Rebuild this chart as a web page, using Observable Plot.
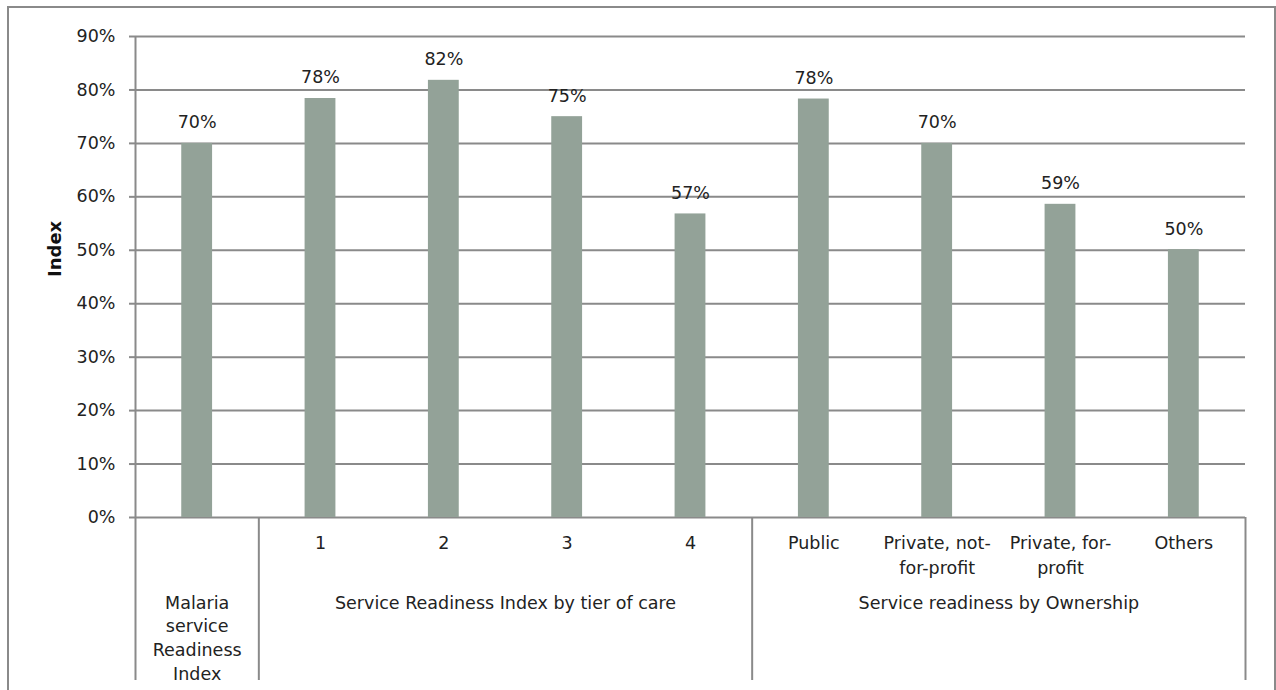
<!DOCTYPE html>
<html>
<head>
<meta charset="utf-8">
<script src="https://cdn.jsdelivr.net/npm/d3@7"></script>
<script src="https://cdn.jsdelivr.net/npm/@observablehq/plot@0.6"></script>
<style>
  html, body { margin: 0; padding: 0; background: #fff; }
  #wrap { position: relative; width: 1276px; height: 690px; overflow: hidden; }
  #border { position: absolute; left: 7px; top: 6px; width: 1269px; height: 720px;
            box-sizing: border-box; border: 2px solid #8a8a8a; pointer-events: none; }
  #chart { position: absolute; left: 0; top: 0; }
</style>
</head>
<body>
<div id="wrap"><div id="chart"></div><div id="border"></div></div>
<script>
// ---- data ----
const tickLabels = ["", "1", "2", "3", "4", "Public", "Private, not-\nfor-profit", "Private, for-\nprofit", "Others"];
const values = [70.0, 78.4, 81.8, 75.0, 56.8, 78.3, 70.0, 58.6, 50.1];
const groupLabels = ["Malaria\nservice\nReadiness\nIndex", "Service Readiness Index by tier of care", "Service readiness by Ownership"];
const groupStart = [0, 1, 5];
const groupEnd = [1, 5, 9];
const yTicks = [0, 10, 20, 30, 40, 50, 60, 70, 80, 90];
const yLabel = "Index";

// ---- chart ----
const below = -30.5; // depth of category separators below the 0% line
const fs = 17.5;
const gridColor = "#8a8a8a";
const idx = values.map((d, i) => i);

const chart = Plot.plot({
  width: 1276,
  height: 690,
  marginLeft: 135,
  marginRight: 31,
  marginTop: 36,
  marginBottom: 10,
  style: { fontFamily: "'DejaVu Sans', sans-serif", fontSize: fs + "px", color: "#222", background: "transparent" },
  x: { domain: [0, 9], axis: null },
  y: { domain: [below, 90], axis: null },
  marks: [
    Plot.gridY(yTicks, { stroke: gridColor, strokeOpacity: 1, strokeWidth: 2 }),
    Plot.axisY(yTicks, {
      tickSize: 6, tickPadding: 14, stroke: gridColor, strokeWidth: 2,
      tickFormat: d => d + "%", fontSize: fs, label: null, fill: "#222"
    }),
    Plot.ruleX([0], { y1: below, y2: 90, stroke: gridColor, strokeWidth: 2 }),
    Plot.ruleX(groupEnd, { y1: below, y2: 0, stroke: gridColor, strokeWidth: 2 }),
    Plot.rectY(idx, {
      x1: i => i + 0.375, x2: i => i + 0.625, y1: 0, y2: i => values[i],
      fill: "#93a298", insetLeft: 0, insetRight: 0
    }),
    Plot.text(idx, {
      x: i => i + 0.5, y: i => values[i], text: i => Math.round(values[i]) + "%",
      dy: -15, lineAnchor: "bottom", fontSize: fs, fill: "#222"
    }),
    Plot.text(idx, {
      x: i => i + 0.5, y: 0, text: i => tickLabels[i],
      dy: 14, lineAnchor: "top", lineHeight: 1.43, fontSize: fs, fill: "#222"
    }),
    Plot.text(groupLabels.map((d, i) => i), {
      x: i => (groupStart[i] + groupEnd[i]) / 2, y: 0, text: i => groupLabels[i],
      dy: 74, lineAnchor: "top", lineHeight: 1.37, fontSize: fs, fill: "#222"
    }),
    Plot.text([yLabel], {
      frameAnchor: "left", y: 45, text: d => d, rotate: -90, dx: -80,
      fontWeight: "bold", fontSize: 18, fill: "#111"
    })
  ]
});
document.getElementById("chart").appendChild(chart);
</script>
</body>
</html>
